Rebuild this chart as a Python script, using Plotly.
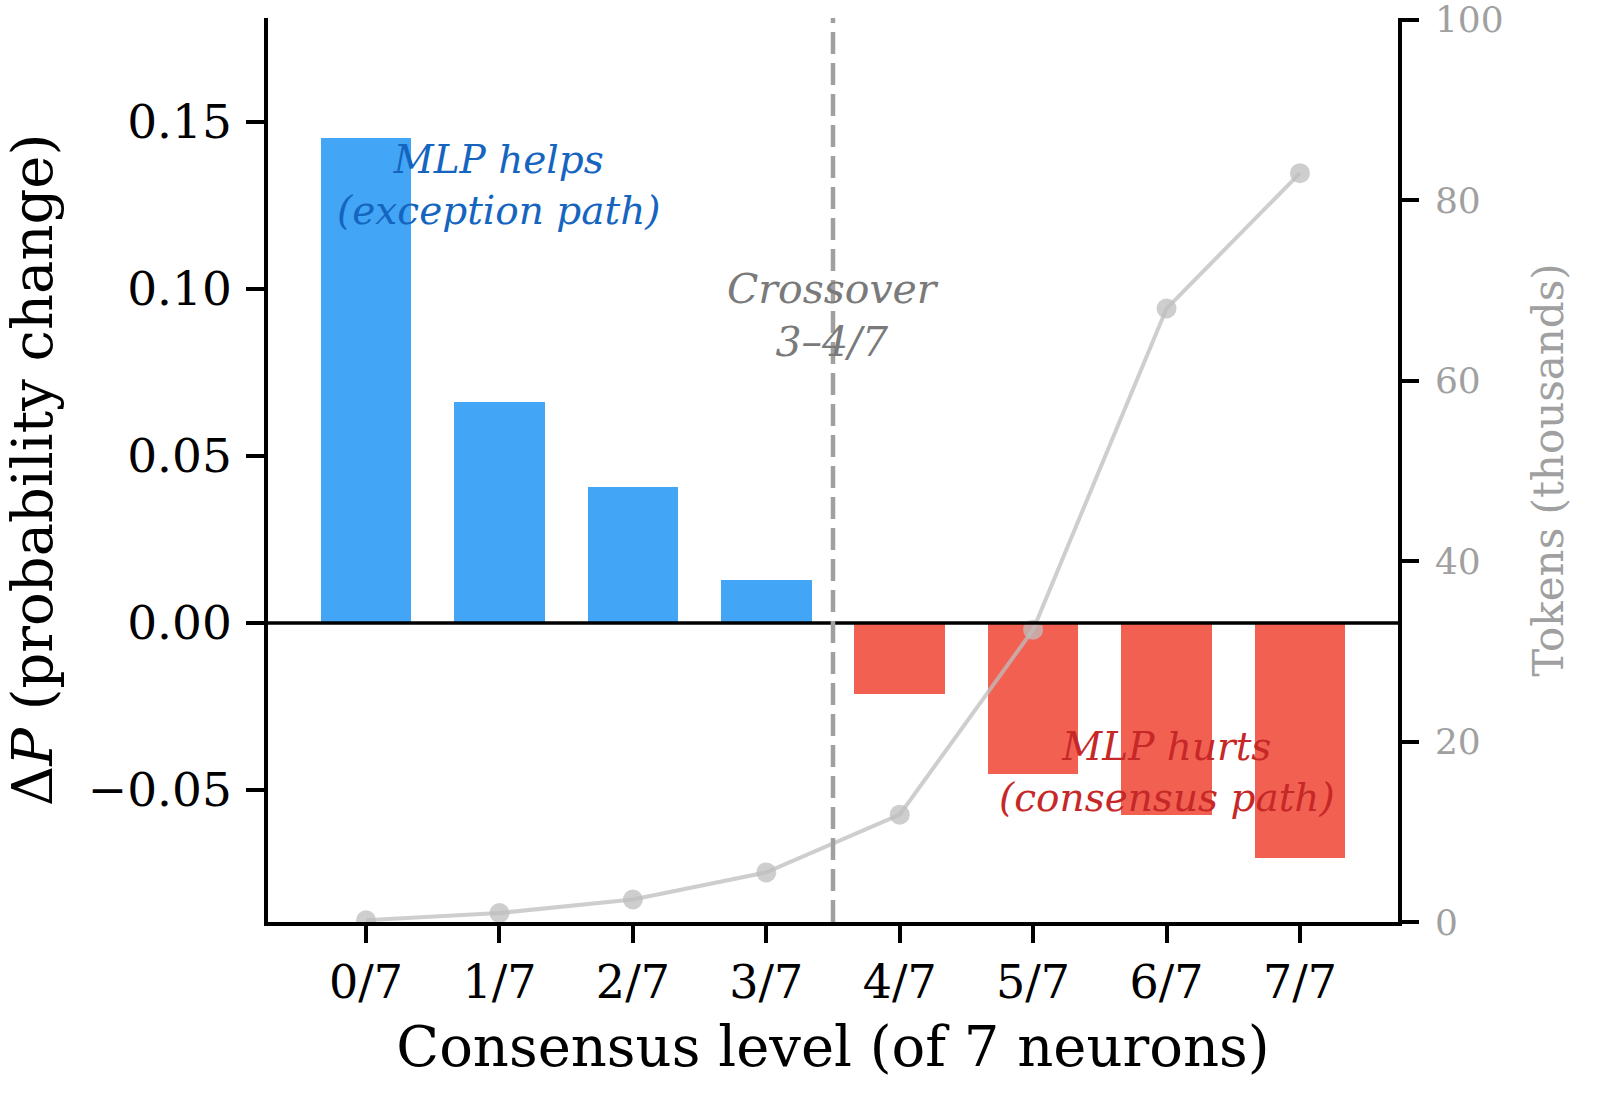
import plotly.graph_objects as go

categories = ["0/7", "1/7", "2/7", "3/7", "4/7", "5/7", "6/7", "7/7"]
delta_p = [0.145, 0.066, 0.0407, 0.0129, -0.0213, -0.0452, -0.0575, -0.0704]
tokens_k = [0.2, 1.0, 2.5, 5.5, 11.9, 32.4, 68.0, 83.0]
y_ticks = [-0.05, 0.0, 0.05, 0.10, 0.15]
y_tick_text = ["\u22120.05", "0.00", "0.05", "0.10", "0.15"]
y2_ticks = [0, 20, 40, 60, 80, 100]

x_pos = list(range(len(categories)))
bar_colors = ["#42A5F5" if v >= 0 else "#F26052" for v in delta_p]

FONT = "DejaVu Serif"

fig = go.Figure()
fig.add_trace(go.Bar(
    x=x_pos, y=delta_p, marker=dict(color=bar_colors, line=dict(width=0)),
    width=0.68, showlegend=False, yaxis="y",
))
fig.add_trace(go.Scatter(
    x=x_pos, y=tokens_k, yaxis="y2", mode="lines+markers",
    line=dict(color="rgba(190,190,190,0.75)", width=4),
    marker=dict(color="rgba(190,190,190,0.75)", size=20),
    showlegend=False,
))

fig.update_layout(
    width=1600, height=1105,
    margin=dict(l=268, r=202, t=18, b=183, autoexpand=False),
    paper_bgcolor="white", plot_bgcolor="white",
    font=dict(family=FONT, color="black", size=46),
    bargap=0,
    xaxis=dict(
        range=[-0.735, 7.735], tickvals=x_pos, ticktext=categories,
        showline=True, linecolor="black", linewidth=3.5, mirror=False,
        ticks="outside", ticklen=17, tickwidth=3.5, tickcolor="black",
        showgrid=False, zeroline=False, automargin=False,
        tickfont=dict(size=46, family=FONT),
        title=dict(text="Consensus level (of 7 neurons)", font=dict(size=56, family=FONT), standoff=20),
    ),
    yaxis=dict(
        range=[-0.0895, 0.181], tickvals=y_ticks, ticktext=y_tick_text,
        showline=True, linecolor="black", linewidth=3.5,
        ticks="outside", ticklen=18, tickwidth=3.5, tickcolor="black",
        showgrid=False, zeroline=False, automargin=False, ticklabelstandoff=5,
        tickfont=dict(size=47, family=FONT),
        title=dict(text="\u0394<i>P</i> (probability change)", font=dict(size=56, family=FONT), standoff=24),
    ),
    yaxis2=dict(
        overlaying="y", side="right", range=[0, 100.2], tickvals=y2_ticks,
        showline=True, linecolor="black", linewidth=3.5,
        ticks="outside", ticklen=17, tickwidth=3.5, tickcolor="black",
        showgrid=False, zeroline=False, ticklabeloverflow="allow", automargin=False,
        ticklabelstandoff=9,
        tickfont=dict(size=36, family=FONT, color="#A0A0A0"),
        title=dict(text="Tokens (thousands)", font=dict(size=42, family=FONT, color="#A0A0A0"), standoff=32),
    ),
)

# zero line
fig.add_shape(type="line", xref="paper", yref="y", x0=0, x1=1, y0=0, y1=0,
              line=dict(color="black", width=3.5), layer="above")
# crossover dashed line
fig.add_shape(type="line", xref="x", yref="paper", x0=3.5, x1=3.5, y0=0, y1=1,
              line=dict(color="#A0A0A0", width=4.5, dash="22px,9px"), layer="above")

fig.add_annotation(x=1.0, y=0.131, xref="x", yref="y",
                   text="<i>MLP helps</i><br><i>(exception path)</i>", showarrow=False,
                   font=dict(size=39, family=FONT, color="#1565C0"))
fig.add_annotation(x=3.5, y=0.092, xref="x", yref="y",
                   text="<i>Crossover</i><br><i>3\u20134/7</i>", showarrow=False,
                   font=dict(size=41, family=FONT, color="#7A7A7A"))
fig.add_annotation(x=6.0, y=-0.0445, xref="x", yref="y",
                   text="<i>MLP hurts</i><br><i>(consensus path)</i>", showarrow=False,
                   font=dict(size=39, family=FONT, color="#C62828"))

fig.write_html(
    "out.html",
    config={"displayModeBar": False},
    post_script="document.body.style.margin='0';document.body.style.overflow='hidden';",
)
